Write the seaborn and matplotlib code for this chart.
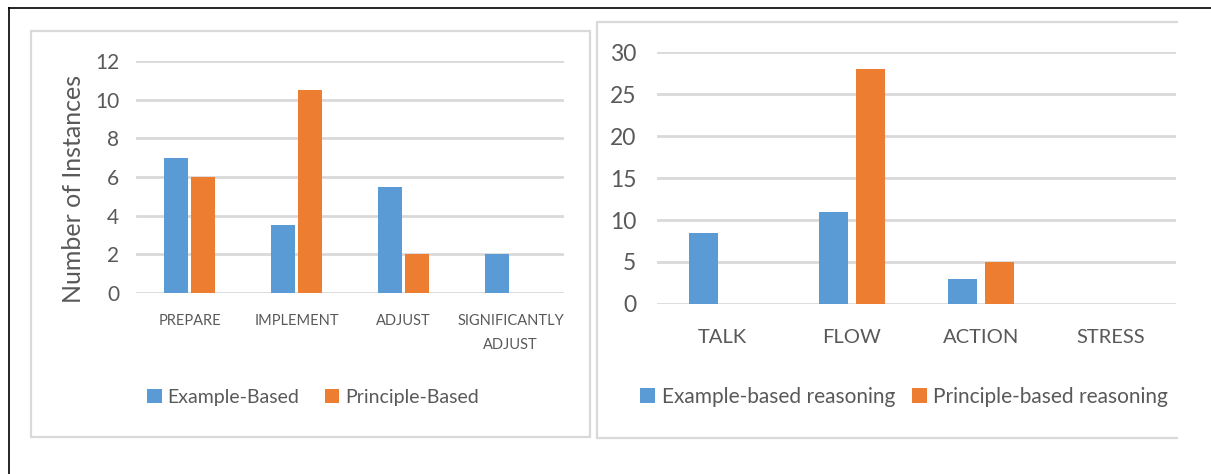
import matplotlib
matplotlib.use("Agg")
import matplotlib.pyplot as plt
from matplotlib.lines import Line2D
import pandas as pd
import seaborn as sns

# Data: coaching stages (left) and conversation modes (right)
stages = ["PREPARE", "IMPLEMENT", "ADJUST", "SIGNIFICANTLY\nADJUST"]
example_based = [7, 3.5, 5.5, 2]
principle_based = [6, 10.5, 2, 0]
left_series = ["Example-Based", "Principle-Based"]

modes = ["TALK", "FLOW", "ACTION", "STRESS"]
example_reasoning = [8.5, 11, 3, 0]
principle_reasoning = [0, 28, 5, 0]
right_series = ["Example-based reasoning", "Principle-based reasoning"]

left_ticks = [0, 2, 4, 6, 8, 10, 12]
right_ticks = [0, 5, 10, 15, 20, 25, 30]

BLUE = "#5B9BD5"
ORANGE = "#ED7D31"
GRID = "#D9D9D9"
TEXT = "#595959"

sns.set_style("white")
plt.rcParams["font.family"] = ["Lato", "DejaVu Sans"]

W, H = 1211, 474
fig = plt.figure(figsize=(W / 100, H / 100), dpi=100)


def fx(x):
    return x / W


def fy(y):
    return 1 - y / H


def hline(x0, x1, y, color, lw):
    fig.add_artist(Line2D([fx(x0), fx(x1)], [fy(y), fy(y)], color=color, lw=lw,
                          transform=fig.transFigure, solid_capstyle="butt"))


def vline(x, y0, y1, color, lw):
    fig.add_artist(Line2D([fx(x), fx(x)], [fy(y0), fy(y1)], color=color, lw=lw,
                          transform=fig.transFigure, solid_capstyle="butt"))


# outer frame (left and top edges)
hline(8, W, 7.5, "black", 1.2)
vline(8.5, 7, H, "black", 1.2)

# left chart border
hline(30.5, 590.5, 31, GRID, 1.6)
hline(30.5, 590.5, 437, GRID, 1.6)
vline(31, 31, 437, GRID, 1.6)
vline(590, 31, 437, GRID, 1.6)

# right chart border (open on the right)
hline(596, 1178, 21.5, GRID, 1.6)
hline(596, 1178, 438, GRID, 1.6)
vline(596.5, 21.5, 438, GRID, 1.6)


def long_frame(cats, a, b, names):
    return pd.DataFrame({
        "category": cats * 2,
        "value": a + b,
        "series": [names[0]] * len(cats) + [names[1]] * len(cats),
    })


def style_axes(ax, ticks, ysize, xsize, ypad, xpad):
    ax.set_ylim(ticks[0], ticks[-1])
    ax.set_yticks(ticks)
    ax.yaxis.grid(True, color=GRID, lw=2.0)
    ax.set_axisbelow(True)
    for s in ax.spines.values():
        s.set_visible(False)
    ax.tick_params(axis="both", length=0, colors=TEXT)
    ax.tick_params(axis="y", labelsize=ysize, pad=ypad)
    ax.tick_params(axis="x", labelsize=xsize, pad=xpad)
    ax.set_xlabel("")
    ax.set_ylabel("")


# ---- left chart ----
axL = fig.add_axes([fx(136), fy(293), (564 - 136) / W, (293 - 61) / H])
dfL = long_frame(stages, example_based, principle_based, left_series)
sns.barplot(data=dfL, x="category", y="value", hue="series",
            palette=[BLUE, ORANGE], saturation=1, width=0.5, gap=0.12,
            linewidth=0, ax=axL)
style_axes(axL, left_ticks, 15, 10.5, 12, 15)
for lab in axL.get_xticklabels():
    lab.set_linespacing(1.9)
axL.set_ylabel("Number of Instances", fontsize=18, color=TEXT)
axL.yaxis.set_label_coords(-0.12, 0.45)
hL, lL = axL.get_legend_handles_labels()
axL.get_legend().remove()
fig.legend(hL, lL, loc="center", bbox_to_anchor=(fx(313), fy(397)),
           ncol=2, frameon=False, fontsize=14, labelcolor=TEXT,
           handlelength=0.75, handleheight=0.75, handletextpad=0.3,
           columnspacing=1.3, borderaxespad=0)

# ---- right chart ----
axR = fig.add_axes([fx(657), fy(304), (1176 - 657) / W, (304 - 52) / H])
dfR = long_frame(modes, example_reasoning, principle_reasoning, right_series)
sns.barplot(data=dfR, x="category", y="value", hue="series",
            palette=[BLUE, ORANGE], saturation=1, width=0.57, gap=0.21,
            linewidth=0, ax=axR)
style_axes(axR, right_ticks, 16.5, 14.5, 15, 18)
hR, lR = axR.get_legend_handles_labels()
axR.get_legend().remove()
fig.legend(hR, lR, loc="center", bbox_to_anchor=(fx(904), fy(397)),
           ncol=2, frameon=False, fontsize=15, labelcolor=TEXT,
           handlelength=0.75, handleheight=0.75, handletextpad=0.3,
           columnspacing=0.8, borderaxespad=0)

fig.savefig("out.png", dpi=100)
